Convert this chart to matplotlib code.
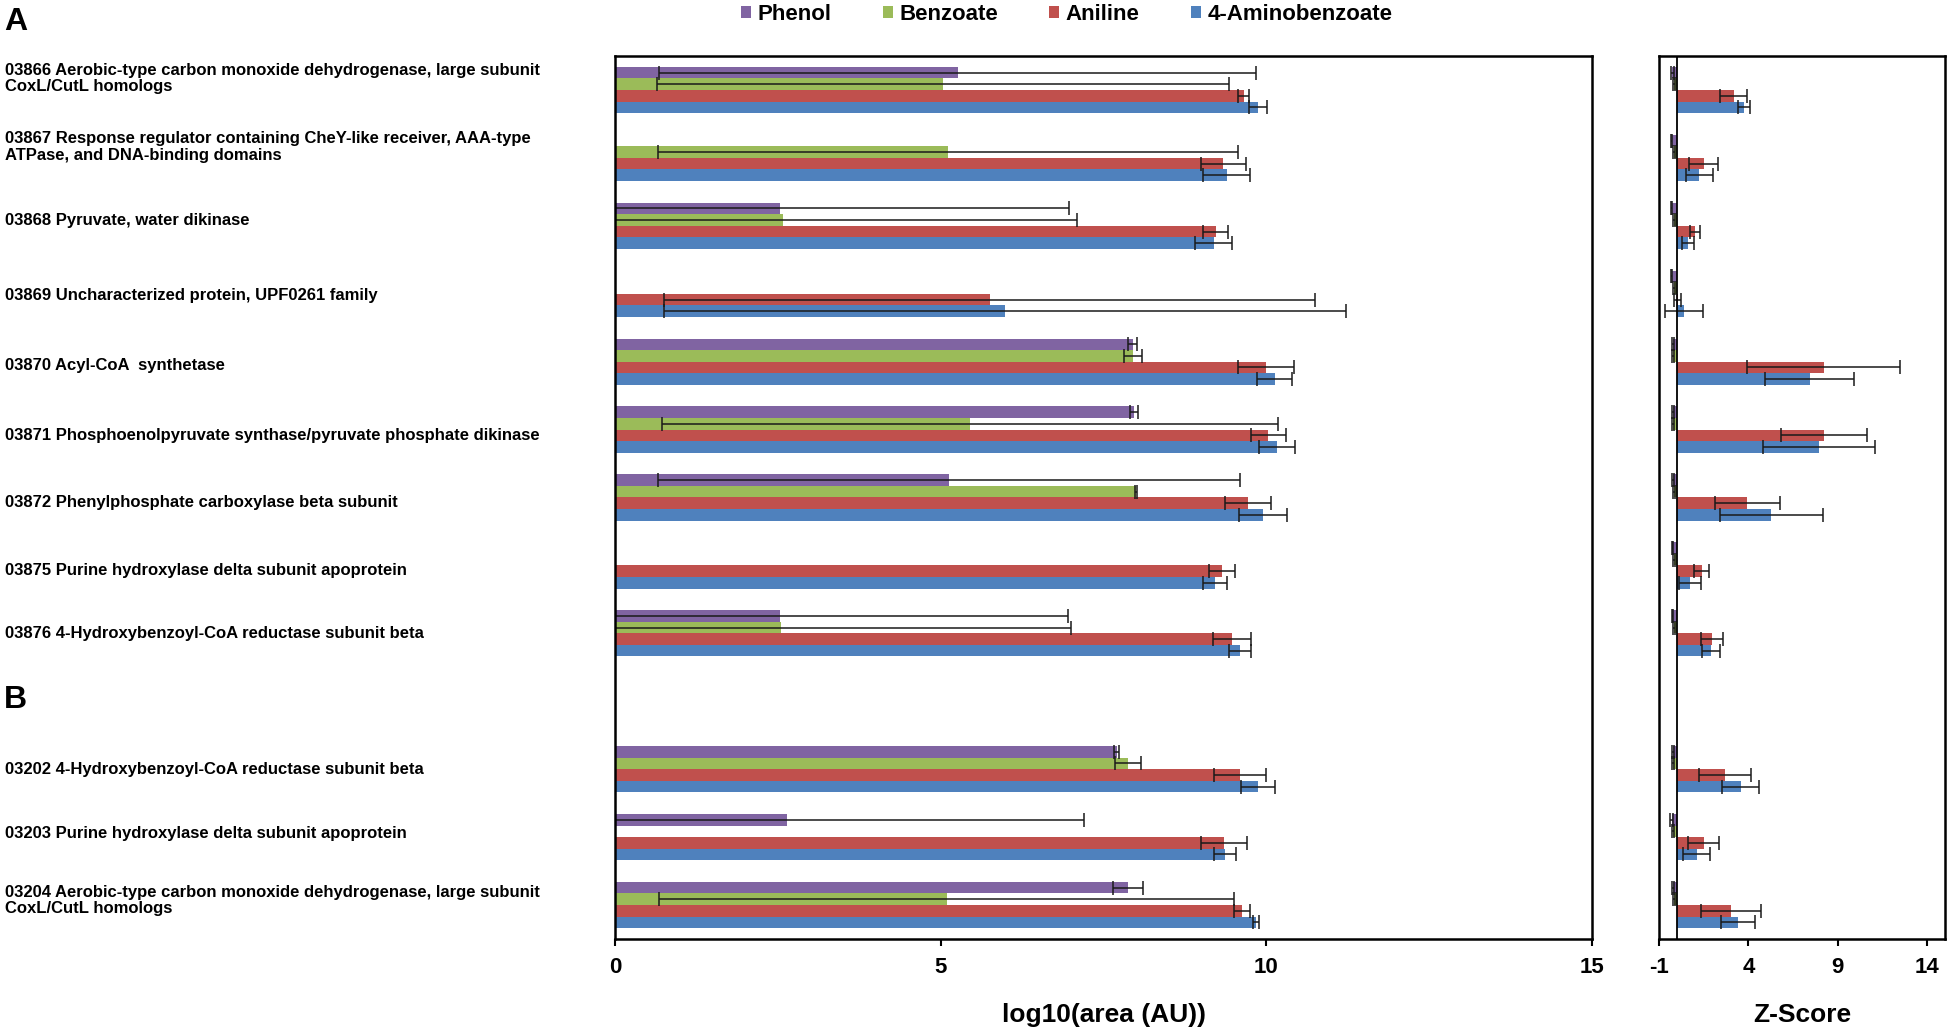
import numpy as np
import matplotlib
matplotlib.use("Agg")
import matplotlib.pyplot as plt
from matplotlib.patches import Patch
import matplotlib.transforms as mtransforms

plt.rcParams["font.family"] = ["Liberation Sans", "DejaVu Sans"]
plt.rcParams["font.weight"] = "bold"
plt.rcParams["axes.unicode_minus"] = False

nan = np.nan

genes = [
    "03866 Aerobic-type carbon monoxide dehydrogenase, large subunit\nCoxL/CutL homologs",
    "03867 Response regulator containing CheY-like receiver, AAA-type\nATPase, and DNA-binding domains",
    "03868 Pyruvate, water dikinase",
    "03869 Uncharacterized protein, UPF0261 family",
    "03870 Acyl-CoA  synthetase",
    "03871 Phosphoenolpyruvate synthase/pyruvate phosphate dikinase",
    "03872 Phenylphosphate carboxylase beta subunit",
    "03875 Purine hydroxylase delta subunit apoprotein",
    "03876 4-Hydroxybenzoyl-CoA reductase subunit beta",
    "",
    "03202 4-Hydroxybenzoyl-CoA reductase subunit beta",
    "03203 Purine hydroxylase delta subunit apoprotein",
    "03204 Aerobic-type carbon monoxide dehydrogenase, large subunit\nCoxL/CutL homologs",
]
substrates = ["Phenol", "Benzoate", "Aniline", "4-Aminobenzoate"]
colors = ["#8064A2", "#9BBB59", "#C0504D", "#4F81BD"]

# log10(area) values and errors
phenol = [5.26, 0, 2.53, 0, 7.95, 7.97, 5.13, 0, 2.53, nan, 7.70, 2.64, 7.87]
phenol_err = [4.58, 0, 4.44, 0, 0.07, 0.06, 4.47, 0, 4.42, nan, 0.04, 4.56, 0.23]
benzoate = [5.04, 5.11, 2.58, 0, 7.95, 5.45, 8.00, 0, 2.55, nan, 7.87, 0, 5.09]
benzoate_err = [4.39, 4.45, 4.52, 0, 0.14, 4.73, 0.02, 0, 4.45, nan, 0.20, 0, 4.42]
aniline = [9.65, 9.34, 9.22, 5.75, 10.00, 10.03, 9.72, 9.32, 9.47, nan, 9.59, 9.35, 9.63]
aniline_err = [0.08, 0.35, 0.19, 5.00, 0.43, 0.27, 0.35, 0.20, 0.29, nan, 0.40, 0.36, 0.12]
amino = [9.87, 9.39, 9.19, 5.99, 10.13, 10.16, 9.95, 9.21, 9.59, nan, 9.87, 9.36, 9.84]
amino_err = [0.14, 0.36, 0.29, 5.24, 0.27, 0.28, 0.37, 0.19, 0.17, nan, 0.26, 0.17, 0.05]

# Z-scores and errors
z_phenol = [-0.25, -0.3, -0.3, -0.3, -0.2, -0.2, -0.2, -0.25, -0.25, nan, -0.2, -0.3, -0.2]
z_phenol_err = [0.1, 0.05, 0.05, 0.05, 0.05, 0.05, 0.05, 0.05, 0.05, nan, 0.05, 0.1, 0.05]
z_benzoate = [-0.15, -0.15, -0.15, -0.15, -0.2, -0.2, -0.15, -0.15, -0.15, nan, -0.2, -0.2, -0.15]
z_benzoate_err = [0.05, 0.05, 0.05, 0.05, 0.05, 0.05, 0.05, 0.05, 0.05, nan, 0.05, 0.05, 0.05]
z_aniline = [3.17, 1.49, 1.02, 0.05, 8.23, 8.23, 3.95, 1.38, 1.96, nan, 2.68, 1.49, 3.05]
z_aniline_err = [0.78, 0.82, 0.27, 0.20, 4.28, 2.40, 1.83, 0.40, 0.63, nan, 1.47, 0.84, 1.68]
z_amino = [3.76, 1.25, 0.60, 0.41, 7.43, 7.95, 5.29, 0.74, 1.90, nan, 3.58, 1.10, 3.43]
z_amino_err = [0.33, 0.75, 0.34, 1.07, 2.50, 3.14, 2.86, 0.60, 0.50, nan, 1.04, 0.77, 0.95]

log_vals = [phenol, benzoate, aniline, amino]
log_errs = [phenol_err, benzoate_err, aniline_err, amino_err]
z_vals = [z_phenol, z_benzoate, z_aniline, z_amino]
z_errs = [z_phenol_err, z_benzoate_err, z_aniline_err, z_amino_err]

W, H = 1950, 1032
fig = plt.figure(figsize=(W / 100, H / 100), dpi=100)
ax = fig.add_axes([615 / W, 1 - 939 / H, (1592 - 615) / W, (939 - 56) / H])
ax2 = fig.add_axes([1659 / W, 1 - 939 / H, (1945 - 1659) / W, (939 - 56) / H])

y = np.arange(len(genes))
h = 0.17
offsets = [-1.5 * h, -0.5 * h, 0.5 * h, 1.5 * h]


def draw(a, vals, errs, skip_zero):
    for v, e, c, off in zip(vals, errs, colors, offsets):
        v = np.array(v, dtype=float)
        e = np.array(e, dtype=float)
        a.barh(y + off, v, height=h, color=c, linewidth=0)
        ok = ~np.isnan(v)
        if skip_zero:
            ok &= v > 0
        a.errorbar(v[ok], (y + off)[ok], xerr=e[ok], fmt="none", ecolor="#1a1a1a",
                   elinewidth=1.1, capsize=5, capthick=1.1)


draw(ax, log_vals, log_errs, True)
draw(ax2, z_vals, z_errs, False)

for a in (ax, ax2):
    a.set_ylim(len(genes) - 0.5, -0.5)
    a.set_yticks([])
    for s in a.spines.values():
        s.set_linewidth(1.8)
        s.set_color("black")
    a.tick_params(axis="x", direction="out", length=5, width=1.5, labelsize=16, pad=8)

ax.set_xlim(0, 15)
ax.set_xticks([0, 5, 10, 15])
ax.set_xlabel("log10(area (AU))", fontsize=19, fontweight="bold", labelpad=18)

ax2.set_xlim(-1, 15)
ax2.set_xticks([-1, 4, 9, 14])
ax2.axvline(0, color="black", lw=1.3)
ax2.set_xlabel("Z-Score", fontsize=19, fontweight="bold", labelpad=18)

# gene labels on the left
label_shift = [-0.17, -0.16, -0.08, 0.03, 0.06, 0.08, 0.08, 0.07, 0, 0, 0, -0.05, -0.07]
trans = mtransforms.blended_transform_factory(fig.transFigure, ax.transData)
for g, yy, dy in zip(genes, y, label_shift):
    if g:
        fig.text(5 / W, yy + dy, g, transform=trans, ha="left", va="center",
                 fontsize=12, fontweight="bold", linespacing=1.1)

fig.text(4 / W, 1 - 30 / H, "A", fontsize=23, fontweight="bold", va="baseline")
fig.text(4 / W, 1 - 708 / H, "B", fontsize=23, fontweight="bold", va="baseline")

handles = [Patch(facecolor=c, edgecolor="none", label=s) for c, s in zip(colors, substrates)]
fig.legend(handles=handles, loc="center", bbox_to_anchor=(0.547, 1 - 14 / H), ncol=4,
           frameon=False, fontsize=16, handlelength=0.45, handleheight=0.45,
           handletextpad=0.3, columnspacing=2.3)

fig.savefig("out.png", dpi=100)
